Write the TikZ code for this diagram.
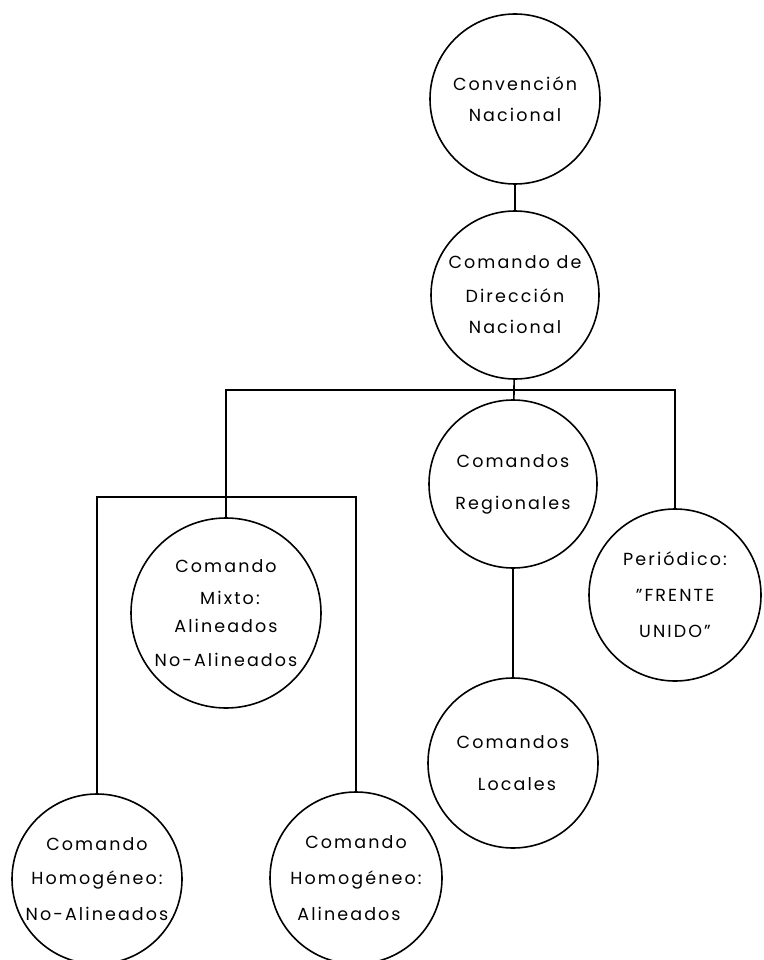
\documentclass[tikz,border=0pt]{standalone}
\usepackage{fontspec}
\setmainfont[LetterSpace=12]{Poppins}
\begin{document}
\begin{tikzpicture}[x=1pt,y=-1pt,
  org/.style={draw,circle,line width=1.6pt,inner sep=0pt,align=center,
    font=\fontsize{17.5}{34}\selectfont},
  link/.style={line width=1.6pt}]
\useasboundingbox (0,0) rectangle (763,960);
\node[org,minimum size=170pt] (conv) at (515,99) {Convención\\[-3pt]Nacional};
\node[org,minimum size=168pt] (dir) at (515,295) {Comando de\\Dirección\\[-3pt]Nacional};
\node[org,minimum size=168pt] (reg) at (513,484) {Comandos\\[8pt]Regionales};
\node[org,minimum size=172pt] (per) at (675,595) {Periódico:\\[2pt]"FRENTE\\[2pt]UNIDO"};
\node[org,minimum size=170pt] (loc) at (513,763) {Comandos\\[8pt]\hspace*{8pt}Locales};
\node[org,minimum size=190pt] (mix) at (226,613) {Comando\\[-2pt]\hspace*{8pt}Mixto:\\[-6pt]Alineados\\No-Alineados};
\node[org,minimum size=170pt] (hna) at (97,879) {Comando\\Homogéneo:\\[2pt]No-Alineados};
\node[org,minimum size=172pt] (ha) at (356,878) {Comando\\[2pt]Homogéneo:\\[2pt]Alineados\hspace*{14pt}};
\coordinate (h1) at (0,390);
\coordinate (h2) at (0,497);
\draw[link] (conv) -- (dir);
\draw[link] (dir) -- (reg);
\draw[link] (reg) -- (loc);
\draw[link] (mix.north) -- (mix.north |- h1) -| (per.north);
\draw[link] (hna.north) -- (hna.north |- h2) -- (ha.north |- h2) -- (ha.north);
\end{tikzpicture}
\end{document}
